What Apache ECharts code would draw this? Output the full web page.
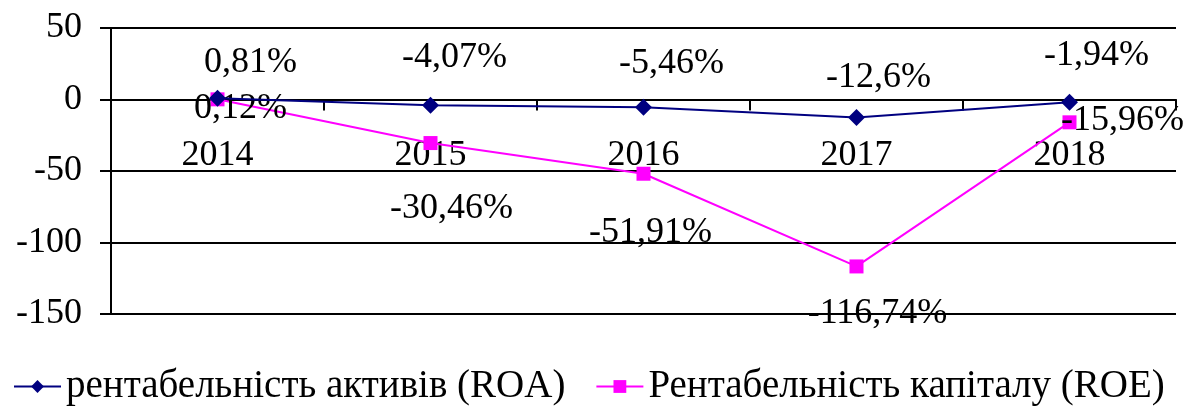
<!DOCTYPE html>
<html>
<head>
<meta charset="utf-8">
<script src="https://cdn.jsdelivr.net/npm/echarts@6/dist/echarts.min.js"></script>
<style>
  html, body { margin: 0; padding: 0; background: #fff; }
  #chart { width: 1194px; height: 416px; }
</style>
</head>
<body>
<div id="chart"></div>
<script>
var years = ['2014', '2015', '2016', '2017', '2018'];
var roa = [0.81, -4.07, -5.46, -12.6, -1.94];
var roe = [0.12, -30.46, -51.91, -116.74, -15.96];
var seriesNames = ['рентабельність активів (ROA)', 'Рентабельність капіталу (ROE)'];

// where each data label sits relative to its point (px)
var roaShift = [[33, -36], [24, -48], [28, -44], [22, -40], [27, -47]];
var roeShift = [[23, 9], [21, 65], [7, 59], [21, 47], [53, -2]];

var font = 'Liberation Serif';
var fsize = 36;

function fmt(p) {
    return String(p.value).replace('.', ',') + '%';
}

function withLabels(vals, shifts) {
    return vals.map(function (v, i) {
        return {
            value: v,
            label: { offset: shifts[i] }
        };
    });
}

var myChart = echarts.init(document.getElementById('chart'));
var option = {
    animation: false,
    textStyle: { fontFamily: font },
    grid: { left: 111, right: 18, top: 28, bottom: 102, containLabel: false },
    legend: {
        bottom: 5,
        left: 8,
        itemWidth: 47,
        itemHeight: 16,
        itemGap: 30,
        textStyle: { fontFamily: font, fontSize: 39, color: '#000' },
        data: seriesNames
    },
    xAxis: {
        type: 'category',
        data: years,
        axisLine: { onZero: true, lineStyle: { color: '#000', width: 2 } },
        axisTick: { show: true, length: 11, lineStyle: { color: '#000', width: 2 } },
        // labels sit just under the zero line, not at the bottom of the grid
        axisLabel: { color: '#000', fontSize: fsize, fontFamily: font, margin: -176 },
        splitLine: { show: false }
    },
    yAxis: {
        type: 'value',
        min: -150,
        max: 50,
        interval: 50,
        axisLine: { show: true, lineStyle: { color: '#000', width: 2 } },
        axisTick: { show: true, length: 11, lineStyle: { color: '#000', width: 2 } },
        axisLabel: { color: '#000', fontSize: fsize, fontFamily: font, margin: 29 },
        splitLine: { show: true, lineStyle: { color: '#000', width: 2 } }
    },
    series: [
        {
            name: seriesNames[0],
            type: 'line',
            data: withLabels(roa, roaShift),
            symbol: 'diamond',
            symbolSize: 17,
            itemStyle: { color: '#000080' },
            lineStyle: { color: '#000080', width: 2 },
            z: 3,
            label: {
                show: true,
                position: 'inside',
                color: '#000',
                fontSize: fsize,
                fontFamily: font,
                formatter: fmt
            }
        },
        {
            name: seriesNames[1],
            type: 'line',
            data: withLabels(roe, roeShift),
            symbol: 'rect',
            symbolSize: 14,
            itemStyle: { color: '#ff00ff' },
            lineStyle: { color: '#ff00ff', width: 2 },
            z: 2,
            label: {
                show: true,
                position: 'inside',
                color: '#000',
                fontSize: fsize,
                fontFamily: font,
                formatter: fmt
            }
        }
    ]
};
myChart.setOption(option);
</script>
</body>
</html>
